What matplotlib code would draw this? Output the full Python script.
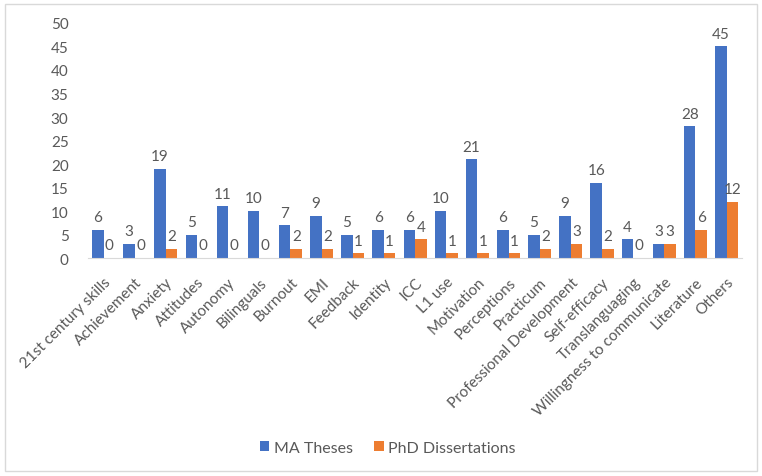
import matplotlib.pyplot as plt
import numpy as np
from matplotlib.patches import Rectangle

plt.rcParams['font.family'] = ['Lato', 'DejaVu Sans']

# data
topics = ['21st century skills', 'Achievement', 'Anxiety', 'Attitudes', 'Autonomy',
          'Bilinguals', 'Burnout', 'EMI', 'Feedback', 'Identity', 'ICC', 'L1 use',
          'Motivation', 'Perceptions', 'Practicum', 'Professional Development',
          'Self-efficacy', 'Translanguaging', 'Willingness to communicate',
          'Literature', 'Others']
ma_theses = [6, 3, 19, 5, 11, 10, 7, 9, 5, 6, 6, 10, 21, 6, 5, 9, 16, 4, 3, 28, 45]
phd_diss = [0, 0, 2, 0, 0, 0, 2, 2, 1, 1, 4, 1, 1, 1, 2, 3, 2, 0, 3, 6, 12]

blue = '#4472C4'
orange = '#ED7D31'
txt = '#595959'

fig = plt.figure(figsize=(7.62, 4.77), dpi=100)
ax = fig.add_axes([0.1155, 0.457, 0.8585, 0.4927])

x = np.arange(len(topics))
w = 0.37
b1 = ax.bar(x - w / 2, ma_theses, w, color=blue, label='MA Theses')
b2 = ax.bar(x + w / 2, phd_diss, w, color=orange, label='PhD Dissertations')

# value labels on top of bars
for bars in (b1, b2):
    for r in bars:
        h = r.get_height()
        ax.annotate(str(int(h)), (r.get_x() + r.get_width() / 2, h),
                    xytext=(0, 4), textcoords='offset points',
                    ha='center', va='bottom', fontsize=11, color=txt)

ax.set_ylim(0, 50)
ax.set_yticks(range(0, 51, 5))
ax.set_xlim(-0.5, len(topics) - 0.5)
ax.set_xticks(x)
ax.set_xticklabels(topics, rotation=45, ha='right', rotation_mode='anchor', fontsize=11, color=txt)
ax.tick_params(axis='y', labelsize=11, labelcolor=txt, length=0, pad=14)
ax.tick_params(axis='x', length=0, pad=12)

for s in ['top', 'right', 'left']:
    ax.spines[s].set_visible(False)
ax.spines['bottom'].set_color('#d9d9d9')

fig.legend(loc='center', bbox_to_anchor=(0.509, 0.059), ncol=2, frameon=False,
           fontsize=11.5, labelcolor=txt, handlelength=0.6, handleheight=0.6,
           columnspacing=1.3, handletextpad=0.3)

# light frame around the chart
fig.patches.append(Rectangle((5 / 762, 5 / 477), 752 / 762, 467 / 477,
                             transform=fig.transFigure, fill=False,
                             edgecolor='#d9d9d9', linewidth=1))

fig.savefig('out.png', dpi=100)
